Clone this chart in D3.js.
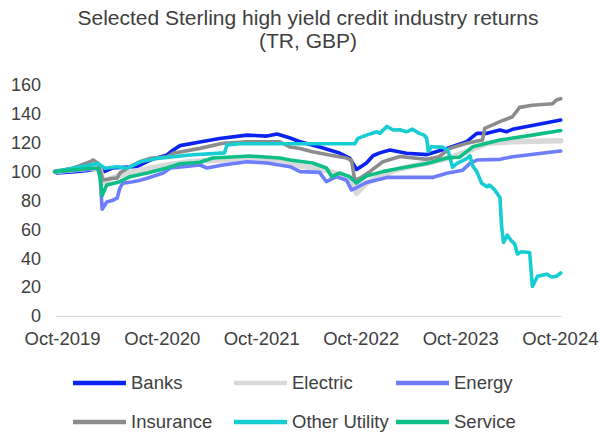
<!DOCTYPE html>
<html>
<head>
<meta charset="utf-8">
<script src="https://cdn.jsdelivr.net/npm/d3@7"></script>
<style>
  html, body { margin: 0; padding: 0; background: #fff; }
  svg { display: block; font-family: "Liberation Sans", Arial, sans-serif; }
</style>
</head>
<body>
<svg id="chart" width="600" height="433"></svg>
<script>
// Total-return index levels (start = 100), GBP
const banks = [
  ["2019-09-05",100],["2019-09-12",99],["2019-11-18",100],["2020-01-12",101],["2020-02-18",102.3],
  ["2020-03-03",100],["2020-04-02",102.5],["2020-07-02",103.5],["2020-08-19",108],["2020-10-20",111.5],
  ["2020-11-12",115],["2020-12-07",118],["2021-02-18",120.5],["2021-05-01",123],["2021-08-10",125.3],
  ["2021-10-22",124.6],["2021-11-28",126],["2022-01-15",123.3],["2022-02-20",120.7],["2022-05-03",117],
  ["2022-07-15",112.9],["2022-08-21",109.4],["2022-09-16",101.5],["2022-10-22",106],["2022-11-15",111],
  ["2022-12-10",113],["2023-01-16",115],["2023-03-18",112.7],["2023-06-01",111.8],["2023-08-13",116],
  ["2023-10-25",120.7],["2023-12-01",126.5],["2024-01-07",126.5],["2024-02-24",128.8],["2024-03-19",127.6],
  ["2024-04-10",129.3],["2024-06-12",131.6],["2024-08-13",133.9],["2024-10-04",135.7]
];
const electric = [
  ["2019-09-05",100],["2020-01-12",102.3],["2020-02-18",101],["2020-03-01",92],["2020-03-24",95],
  ["2020-04-24",97],["2020-07-13",101],["2020-10-20",104.6],["2021-01-13",107],["2021-07-13",108.5],
  ["2021-12-08",108],["2022-02-20",104],["2022-05-28",101],["2022-07-15",98],["2022-08-21",96],
  ["2022-09-16",85],["2022-10-22",92],["2022-12-10",97],["2023-02-22",102],["2023-06-01",106],
  ["2023-08-13",109],["2023-10-25",113.8],["2024-01-07",119.6],["2024-04-10",120.7],["2024-10-04",121.3]
];
const energy = [
  ["2019-09-05",100],["2020-01-12",101.8],["2020-02-10",102.3],["2020-02-18",95],["2020-02-25",74],
  ["2020-03-13",79],["2020-04-02",80],["2020-04-20",81.6],["2020-04-30",88.6],["2020-05-11",92],
  ["2020-06-17",93],["2020-07-13",94],["2020-08-08",95.4],["2020-10-06",99],["2020-11-01",102.5],
  ["2020-12-19",103.4],["2021-02-18",104.6],["2021-03-16",102.5],["2021-05-13",104.6],["2021-08-10",106.8],
  ["2021-10-22",106],["2022-01-15",103.4],["2022-02-20",100],["2022-05-03",99.5],["2022-05-28",93],
  ["2022-07-04",96.5],["2022-08-10",94],["2022-08-28",87.3],["2022-09-16",89],["2022-10-22",92.5],
  ["2023-01-05",96],["2023-06-21",96],["2023-08-13",98.8],["2023-10-10",101],["2023-11-06",105.7],
  ["2023-12-01",108],["2024-02-24",108.5],["2024-04-10",110.3],["2024-10-04",114.3]
];
const insurance = [
  ["2019-09-05",100],["2019-11-10",102.3],["2020-01-12",106.8],["2020-01-23",108],["2020-02-10",105.7],
  ["2020-02-28",94.2],["2020-04-06",95.4],["2020-04-20",95.5],["2020-04-30",99],["2020-06-06",103.4],
  ["2020-07-13",106.8],["2020-08-19",109.2],["2020-10-20",110.3],["2020-11-12",112.7],["2021-02-18",116.1],
  ["2021-05-13",119.6],["2021-08-10",120.7],["2021-12-08",120.7],["2022-01-15",117],["2022-02-20",116],
  ["2022-04-07",113.8],["2022-06-08",111.5],["2022-08-10",109.4],["2022-08-28",108],["2022-09-09",94],
  ["2022-09-28",95.4],["2022-11-03",100],["2022-12-21",106.8],["2023-02-22",110.5],["2023-06-01",108.5],
  ["2023-07-16",110.3],["2023-08-22",116],["2023-10-25",119.6],["2023-12-22",121.9],["2023-12-30",130],
  ["2024-02-24",134.6],["2024-04-10",138],["2024-05-06",144.5],["2024-06-22",146],["2024-09-04",147],
  ["2024-09-18",149.6],["2024-10-04",150.5]
];
const otherUtility = [
  ["2019-09-05",100],["2020-01-12",104.6],["2020-02-10",105.7],["2020-03-06",102.3],["2020-04-20",103.4],
  ["2020-05-26",102.3],["2020-07-13",106.8],["2020-09-14",109.2],["2021-01-13",111.5],["2021-05-19",113],
  ["2021-05-28",118.5],["2021-07-13",119.3],["2022-09-09",119.3],["2022-09-21",123],["2022-10-22",125.3],
  ["2022-11-29",127.6],["2022-12-10",126.5],["2023-01-05",131.3],["2023-01-28",128.8],["2023-02-22",129],
  ["2023-03-18",127.6],["2023-04-09",129.4],["2023-05-04",126.5],["2023-05-22",125.3],["2023-05-31",123],
  ["2023-06-06",114],["2023-06-17",117.2],["2023-07-28",117],["2023-08-17",115],["2023-09-03",103],
  ["2023-09-18",105.5],["2023-10-25",109],["2023-11-06",111],["2023-11-16",104],["2023-12-01",100],
  ["2023-12-12",95],["2023-12-19",92],["2024-01-07",89.5],["2024-01-17",90.7],["2024-02-06",87],
  ["2024-02-24",82],["2024-03-01",62],["2024-03-08",51],["2024-03-22",56],["2024-04-06",52],
  ["2024-04-18",50],["2024-04-28",43],["2024-05-13",44.5],["2024-06-12",44],["2024-06-22",20.5],
  ["2024-07-11",27.5],["2024-08-13",29],["2024-09-01",27],["2024-09-18",27.5],["2024-10-04",29.8]
];
const service = [
  ["2019-09-05",100],["2020-01-12",102.3],["2020-02-10",102.3],["2020-02-18",96],["2020-02-25",83.5],
  ["2020-03-13",90.7],["2020-04-30",93],["2020-06-06",96.5],["2020-08-08",99],["2020-10-20",102.5],
  ["2020-12-07",105.5],["2021-02-18",106.5],["2021-04-06",109.4],["2021-08-20",110.8],["2021-12-08",109.4],
  ["2022-01-15",108],["2022-04-07",106],["2022-05-28",102.5],["2022-06-16",96.5],["2022-07-15",99],
  ["2022-08-21",96.5],["2022-09-16",92],["2022-10-22",97],["2022-12-21",100],["2023-02-22",102.3],
  ["2023-06-01",105.7],["2023-08-13",109.5],["2023-09-29",110],["2023-11-16",117.2],["2024-01-07",119.6],
  ["2024-02-24",121.9],["2024-06-22",125.3],["2024-10-04",128.5]
];

const seriesNames = ["Banks", "Electric", "Energy", "Insurance", "Other Utility", "Service"];
const seriesData = [banks, electric, energy, insurance, otherUtility, service];
const xTickLabels = ["Oct-2019", "Oct-2020", "Oct-2021", "Oct-2022", "Oct-2023", "Oct-2024"];
const yTicks = [0, 20, 40, 60, 80, 100, 120, 140, 160];

// Styling
const colors = ["#0A22F2", "#D9D9D9", "#6E7DFB", "#8C8C8C", "#16CDD4", "#0DBE86"];
const widths = [3.6, 5.5, 3.6, 3.6, 3.6, 3.6];
const textColor = "#404040";
const fontFamily = "'Liberation Sans', Arial, sans-serif";

const svg = d3.select("#chart");
const parse = d3.timeParse("%Y-%m-%d");
const fmtTick = d3.timeFormat("%b-%Y");

const x = d3.scaleTime()
  .domain([parse("2019-09-05"), parse("2024-10-05")])
  .range([55, 561]);
const y = d3.scaleLinear().domain([0, 160]).range([316, 85]);

// Title
const title = svg.append("text")
  .attr("x", 308).attr("text-anchor", "middle")
  .attr("fill", textColor).style("font-size", "21px");
title.append("tspan").attr("x", 308).attr("y", 25).text("Selected Sterling high yield credit industry returns");
title.append("tspan").attr("x", 308).attr("y", 48).text("(TR, GBP)");

// Y axis labels
const yAxis = d3.axisLeft(y).tickValues(yTicks).tickSize(0).tickPadding(0);
const gy = svg.append("g").attr("transform", "translate(41,0)").call(yAxis);
gy.select(".domain").remove();
gy.selectAll("text").attr("fill", textColor).style("font-size", "18px")
  .style("font-family", fontFamily);

// X axis
const xTickDates = xTickLabels.map(s => d3.timeParse("%b-%Y")(s));
const xAxis = d3.axisBottom(x).tickValues(xTickDates).tickFormat(fmtTick).tickSize(0).tickPadding(16);
const gx = svg.append("g").attr("transform", "translate(0,316)").call(xAxis);
gx.select(".domain").attr("stroke", "#D9D9D9").attr("stroke-width", 1.2);
gx.selectAll("text").attr("fill", textColor).style("font-size", "18.5px")
  .style("font-family", fontFamily);

// Series lines
const line = d3.line()
  .x(d => x(parse(d[0])))
  .y(d => y(d[1]));

svg.append("g").selectAll("path")
  .data(seriesData)
  .join("path")
  .attr("d", d => line(d))
  .attr("fill", "none")
  .attr("stroke", (d, i) => colors[i])
  .attr("stroke-width", (d, i) => widths[i])
  .attr("stroke-linejoin", "round")
  .attr("stroke-linecap", "round");

// Legend
const legendCols = [73, 234, 396];
const legendRows = [383, 422];
const lg = svg.append("g").selectAll("g")
  .data(seriesNames)
  .join("g")
  .attr("transform", (d, i) => `translate(${legendCols[i % 3]},${legendRows[Math.floor(i / 3)]})`);
lg.append("line")
  .attr("x1", 0).attr("x2", 53).attr("y1", 0).attr("y2", 0)
  .attr("stroke", (d, i) => colors[i]).attr("stroke-width", 4.5);
lg.append("text")
  .attr("x", 58).attr("y", 0).attr("dy", "0.35em")
  .attr("fill", textColor).style("font-size", "18.5px")
  .text(d => d);
</script>
</body>
</html>
